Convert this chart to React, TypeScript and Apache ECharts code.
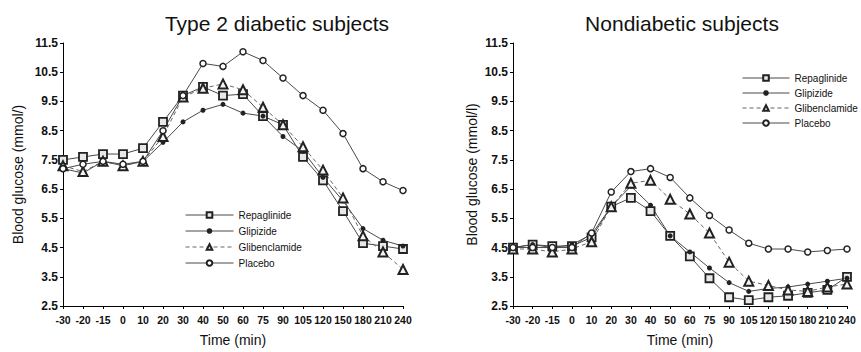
import React, { useEffect, useRef } from "react";
import * as echarts from "echarts";

const times = ["-30", "-20", "-15", "0", "10", "20", "30", "40", "50", "60", "75", "90", "105", "120", "150", "180", "210", "240"];
const yTicks = [2.5, 11.5];

// Type 2 diabetic subjects
const t2Repaglinide = [7.5, 7.6, 7.7, 7.7, 7.9, 8.8, 9.7, 10.0, 9.7, 9.75, 9.0, 8.7, 7.6, 6.8, 5.75, 4.65, 4.55, 4.45];
const t2Glipizide = [7.2, 7.05, 7.45, 7.3, 7.45, 8.1, 8.8, 9.2, 9.4, 9.1, 9.0, 8.3, 7.8, 6.9, 6.1, 5.15, 4.75, 4.55];
const t2Glibenclamide = [7.3, 7.1, 7.45, 7.3, 7.45, 8.3, 9.65, 9.95, 10.1, 9.9, 9.3, 8.7, 7.95, 7.15, 6.2, 4.9, 4.35, 3.75];
const t2Placebo = [7.2, 7.35, 7.45, 7.35, 7.45, 8.5, 9.7, 10.8, 10.7, 11.2, 10.9, 10.3, 9.7, 9.2, 8.4, 7.2, 6.75, 6.45];

// Nondiabetic subjects
const ndRepaglinide = [4.5, 4.6, 4.55, 4.55, 4.85, 5.9, 6.2, 5.75, 4.9, 4.2, 3.45, 2.8, 2.7, 2.8, 2.85, 2.95, 3.05, 3.5];
const ndGlipizide = [4.5, 4.6, 4.5, 4.6, 4.95, 5.9, 6.6, 5.95, 4.9, 4.35, 3.8, 3.3, 3.0, 3.1, 3.15, 3.25, 3.35, 3.45];
const ndGlibenclamide = [4.45, 4.45, 4.35, 4.45, 4.7, 5.9, 6.7, 6.8, 6.15, 5.65, 5.0, 4.0, 3.35, 3.2, 3.05, 3.0, 3.15, 3.25];
const ndPlacebo = [4.5, 4.5, 4.5, 4.5, 5.0, 6.4, 7.1, 7.2, 6.9, 6.2, 5.6, 5.1, 4.65, 4.45, 4.45, 4.35, 4.4, 4.45];

const seriesNames = ["Repaglinide", "Glipizide", "Glibenclamide", "Placebo"];

const FONT = "Liberation Sans, Arial, sans-serif";
const LINE = "#4a4a4a";
const MARK = "#222";

function styleFor(name: string) {
  switch (name) {
    case "Repaglinide":
      return {
        symbol: "rect",
        symbolSize: 8,
        lineStyle: { color: LINE, width: 1, type: "solid" },
        itemStyle: { color: "#e8e8e8", borderColor: MARK, borderWidth: 1.8 },
      };
    case "Glipizide":
      return {
        symbol: "circle",
        symbolSize: 5,
        lineStyle: { color: LINE, width: 1, type: "solid" },
        itemStyle: { color: MARK, borderColor: MARK, borderWidth: 0 },
      };
    case "Glibenclamide":
      return {
        symbol: "triangle",
        symbolSize: 9,
        lineStyle: { color: "#666", width: 1, type: [4, 3] },
        itemStyle: { color: "#f4f4f4", borderColor: MARK, borderWidth: 2 },
      };
    default:
      return {
        symbol: "circle",
        symbolSize: 6,
        lineStyle: { color: LINE, width: 1, type: "solid" },
        itemStyle: { color: "#fff", borderColor: MARK, borderWidth: 1.5 },
      };
  }
}

function makeSeries(name: string, data: number[], idx: number) {
  return {
    type: "line",
    name,
    xAxisIndex: idx,
    yAxisIndex: idx,
    data,
    showSymbol: true,
    ...styleFor(name),
  };
}

export default function App() {
  const ref = useRef<HTMLDivElement>(null);
  useEffect(() => {
    if (!ref.current) return;
    const chart = echarts.init(ref.current, undefined, { renderer: "svg" });
    const xAxisBase = {
      type: "category",
      data: times,
      boundaryGap: false,
      axisLine: { lineStyle: { color: "#000", width: 1 } },
      axisTick: { show: true, length: 3, lineStyle: { color: "#000" } },
      axisLabel: { interval: 0, color: "#111", fontSize: 10.5, fontWeight: "bold", fontFamily: FONT, margin: 8 },
      name: "Time (min)",
      nameLocation: "middle",
      nameGap: 27,
      nameTextStyle: { fontSize: 14, color: "#111", fontFamily: FONT },
    };
    const yAxisBase = {
      type: "value",
      min: yTicks[0],
      max: yTicks[1],
      interval: 1,
      splitLine: { show: false },
      axisLine: { show: true, lineStyle: { color: "#000", width: 1 } },
      axisTick: { show: true, length: 3, lineStyle: { color: "#000" } },
      axisLabel: { color: "#111", fontSize: 12, fontWeight: "bold", fontFamily: FONT, margin: 5, formatter: (v: number) => v.toFixed(1) },
      nameLocation: "middle",
      nameTextStyle: { fontSize: 14, color: "#111", fontFamily: FONT },
    };
    const legendBase = {
      orient: "vertical",
      itemWidth: 48,
      itemHeight: 7,
      textStyle: { fontSize: 10, color: "#111", fontFamily: FONT },
      lineStyle: { width: 1 },
      data: seriesNames,
    };
    chart.setOption({
      animation: false,
      backgroundColor: "#fff",
      graphic: [
        { type: "text", x: 277, y: 23, style: { text: "Type 2 diabetic subjects", fontSize: 21, fontFamily: FONT, fill: "#111", align: "center", verticalAlign: "middle" } },
        { type: "text", x: 682, y: 23, style: { text: "Nondiabetic subjects", fontSize: 21, fontFamily: FONT, fill: "#111", align: "center", verticalAlign: "middle" } },
      ],
      legend: [
        { ...legendBase, left: 180, top: 205, itemGap: 6 },
        { ...legendBase, left: 737, top: 68, itemGap: 5, itemWidth: 47 },
      ],
      grid: [
        { left: 63, top: 43, width: 340, height: 268 },
        { left: 513, top: 43, width: 334, height: 268 },
      ],
      xAxis: [
        { ...xAxisBase, gridIndex: 0 },
        { ...xAxisBase, gridIndex: 1 },
      ],
      yAxis: [
        { ...yAxisBase, gridIndex: 0, name: "Blood glucose (mmol/)", nameGap: 38 },
        { ...yAxisBase, gridIndex: 1, name: "Blood glucose (mmol/l)", nameGap: 34 },
      ],
      series: [
        makeSeries("Repaglinide", t2Repaglinide, 0),
        makeSeries("Glipizide", t2Glipizide, 0),
        makeSeries("Glibenclamide", t2Glibenclamide, 0),
        makeSeries("Placebo", t2Placebo, 0),
        makeSeries("Repaglinide", ndRepaglinide, 1),
        makeSeries("Glipizide", ndGlipizide, 1),
        makeSeries("Glibenclamide", ndGlibenclamide, 1),
        makeSeries("Placebo", ndPlacebo, 1),
      ],
    });
    return () => chart.dispose();
  }, []);
  return <div ref={ref} style={{ position: "fixed", left: 0, top: 0, width: 861, height: 352 }} />;
}
